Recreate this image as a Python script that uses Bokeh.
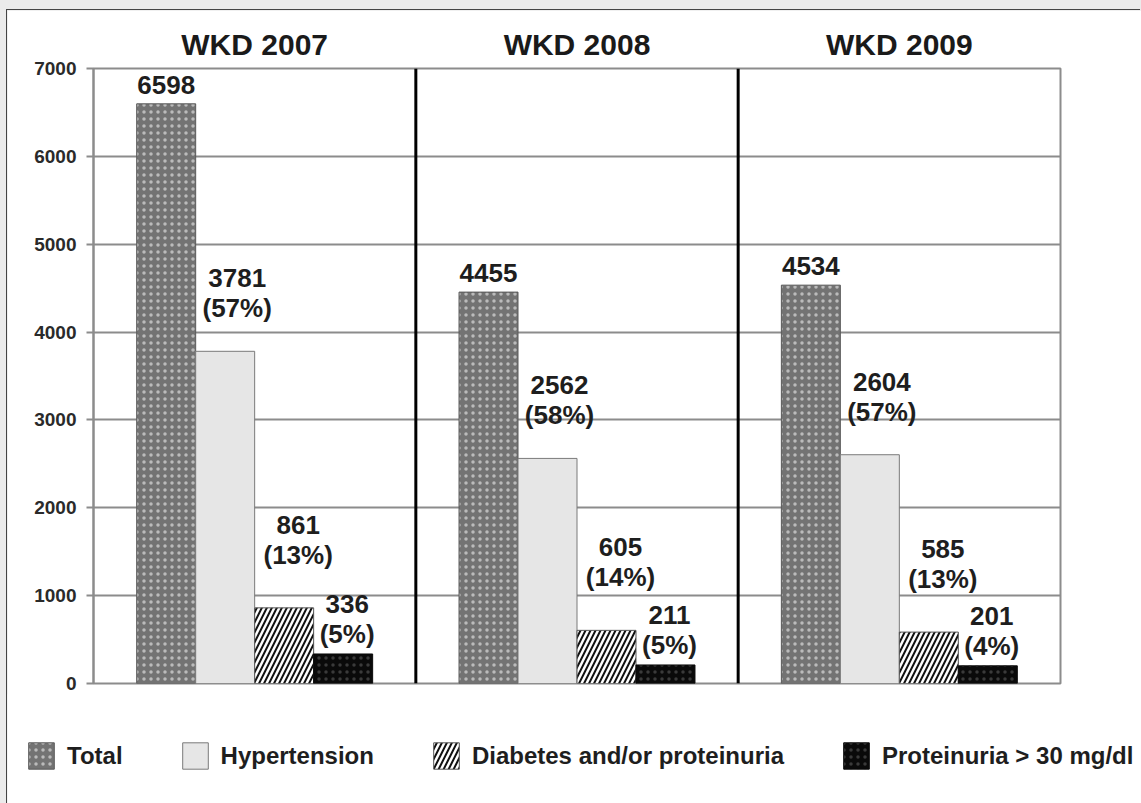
from bokeh.plotting import figure
from bokeh.models import (ColumnDataSource, Range1d, FixedTicker, LinearAxis, Span,
                          Legend, LegendItem)
from bokeh.core.properties import value
from bokeh.embed import file_html
from bokeh.resources import INLINE

# ---- data ----
years = ["WKD 2007", "WKD 2008", "WKD 2009"]
series = ["Total", "Hypertension", "Diabetes and/or proteinuria", "Proteinuria > 30 mg/dl"]
total = [6598, 4455, 4534]
hypertension = [3781, 2562, 2604]
diabetes = [861, 605, 585]
proteinuria = [336, 211, 201]
hypertension_pct = [57, 58, 57]
diabetes_pct = [13, 14, 13]
proteinuria_pct = [5, 5, 4]
y_ticks = [0, 1000, 2000, 3000, 4000, 5000, 6000, 7000]

FONT = "Liberation Sans"
GRID = "#8c8c8c"
W = 1134

p = figure(width=W, height=685, output_backend="svg", toolbar_location=None,
           x_range=Range1d(0, len(years)), y_range=Range1d(0, 7000),
           min_border_left=86, min_border_right=81, min_border_top=58, min_border_bottom=12)
p.background_fill_color = "white"
p.border_fill_color = "white"
p.outline_line_color = GRID
p.outline_line_width = 2
p.styles = {"margin-left": "7px", "margin-top": "10px", "box-shadow": "-1px -1px 0 0 #444"}

p.xaxis.visible = False
p.xgrid.visible = False
p.ygrid.grid_line_color = GRID
p.ygrid.grid_line_width = 2
p.ygrid.ticker = FixedTicker(ticks=y_ticks)
p.yaxis.ticker = FixedTicker(ticks=y_ticks)
p.yaxis.axis_line_color = GRID
p.yaxis.axis_line_width = 2
p.yaxis.major_tick_line_color = GRID
p.yaxis.major_tick_line_width = 2
p.yaxis.major_tick_out = 7
p.yaxis.major_tick_in = 0
p.yaxis.minor_tick_line_color = None
p.yaxis.major_label_standoff = 10
p.yaxis.major_label_text_font = FONT
p.yaxis.major_label_text_font_size = "19px"
p.yaxis.major_label_text_font_style = "bold"
p.yaxis.major_label_text_color = "#2a2a2a"

# group titles as an axis above
centers = [i + 0.5 for i in range(len(years))]
top_axis = LinearAxis(ticker=FixedTicker(ticks=centers),
                      major_label_overrides={c: y for c, y in zip(centers, years)})
top_axis.axis_line_color = None
top_axis.major_tick_line_color = None
top_axis.minor_tick_line_color = None
top_axis.major_tick_out = 0
top_axis.major_tick_in = 0
top_axis.major_label_standoff = 8
top_axis.major_label_text_font = FONT
top_axis.major_label_text_font_size = "30px"
top_axis.major_label_text_font_style = "bold"
top_axis.major_label_text_color = "#1a1a1a"
p.add_layout(top_axis, "above")

# group separators
for i in range(1, len(years)):
    p.add_layout(Span(location=i, dimension="height", line_color="black", line_width=3))

bw = 0.183
values = [total, hypertension, diabetes, proteinuria]
pcts = [None, hypertension_pct, diabetes_pct, proteinuria_pct]
styles = [
    dict(fill_color="#737373", line_color="#5a5a5a", hatch_pattern="dot",
         hatch_color="#bbbbbb", hatch_scale=7, hatch_weight=1.5),
    dict(fill_color="#e6e6e6", line_color="#7a7a7a"),
    dict(fill_color="white", line_color="#555555", hatch_pattern="right_diagonal_line",
         hatch_color="#111111", hatch_scale=10, hatch_weight=2),
    dict(fill_color="#0a0a0a", line_color="#0a0a0a", hatch_pattern="dot",
         hatch_color="#3a3a3a", hatch_scale=7, hatch_weight=1.5),
]
label_dx = [0, 12, 14, 4]
label_dy = [-10, -28, -38, -5]
LINE = 36
text_style = dict(text_align="center", text_baseline="bottom", text_font=value(FONT),
                  text_font_size="26px", text_font_style="bold", text_color="#1e1e1e")

for k, (vals, st) in enumerate(zip(values, styles)):
    xs = [i + 0.5 + (k - 1.5) * bw for i in range(len(years))]
    num = [str(v) for v in vals]
    src = ColumnDataSource(dict(x=xs, top=vals, num=num))
    p.vbar(x="x", top="top", bottom=0, width=bw, source=src, line_width=1, **st)
    if pcts[k] is None:
        p.text(x="x", y="top", text="num", source=src, x_offset=label_dx[k],
               y_offset=label_dy[k], **text_style)
    else:
        src.data["pct"] = [f"({pc}%)" for pc in pcts[k]]
        p.text(x="x", y="top", text="num", source=src, x_offset=label_dx[k],
               y_offset=label_dy[k] - LINE, **text_style)
        extra = dict(background_fill_color="white") if k == 3 else {}
        p.text(x="x", y="top", text="pct", source=src, x_offset=label_dx[k],
               y_offset=label_dy[k], **text_style, **extra)

# legend strip below the chart (separate root so its frame spans the full width)
lg = figure(width=W, height=109, output_backend="svg", toolbar_location=None,
            x_range=Range1d(0, 1), y_range=Range1d(0, 1),
            min_border_left=0, min_border_right=0, min_border_top=0, min_border_bottom=0)
lg.axis.visible = False
lg.grid.visible = False
lg.outline_line_color = None
lg.background_fill_color = "white"
lg.border_fill_color = "white"
lg.styles = {"margin-left": "7px", "margin-top": "-1px", "box-shadow": "-1px 0 0 0 #444"}
# off-range proxy glyphs that only provide the legend swatches
proxy = ColumnDataSource(dict(x=[-5], top=[-5]))
legend_renderers = [lg.vbar(x="x", top="top", bottom=-6, width=0.1, source=proxy, line_width=1, **st)
                    for st in styles]
legend = Legend(items=[LegendItem(label=s, renderers=[r]) for s, r in zip(series, legend_renderers)],
                orientation="horizontal", location=(18, 31),
                glyph_width=32, glyph_height=33, label_standoff=10, spacing=56,
                padding=0, margin=0, border_line_color=None, background_fill_alpha=0,
                label_text_font=FONT, label_text_font_size="24px",
                label_text_font_style="bold", label_text_color="#1e1e1e")
lg.add_layout(legend, "center")

html = file_html([p, lg], INLINE)
html = html.replace("</head>", "<style>html, body { background-color: #ebebeb; }</style></head>", 1)
open("out.html", "w").write(html)
